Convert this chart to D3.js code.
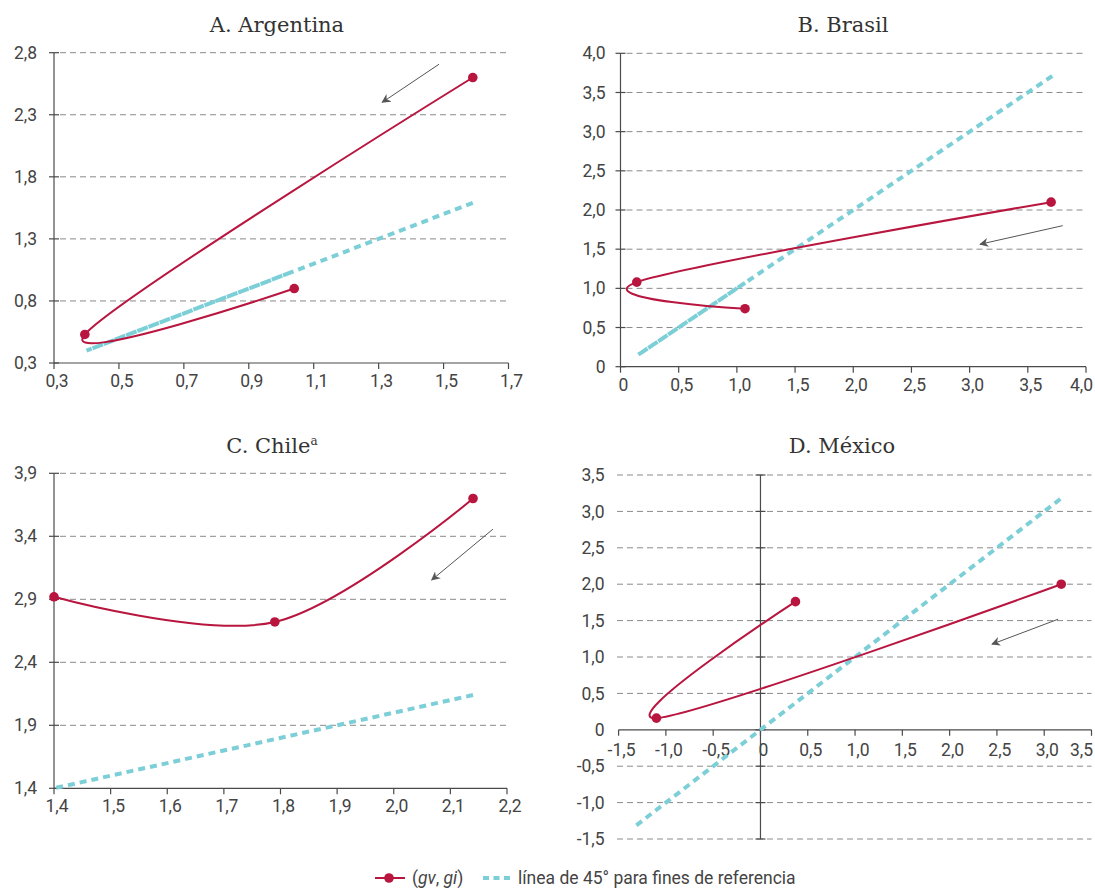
<!DOCTYPE html>
<html><head><meta charset="utf-8">
<script src="https://cdn.jsdelivr.net/npm/d3@7"></script>
<style>
body{margin:0;background:#fff;}
svg{display:block;}
</style></head>
<body>
<svg id="chart" width="1095" height="888"></svg>
<script>
// ---------- DATA ----------
const argentinaGv = [1.59, 0.395, 1.04];
const argentinaGi = [2.60, 0.53, 0.90];
const argentinaRef = [1.59, 0.40, 1.04];
const argentinaXTicks = [0.3, 0.5, 0.7, 0.9, 1.1, 1.3, 1.5, 1.7];
const argentinaYTicks = [0.3, 0.8, 1.3, 1.8, 2.3, 2.8];
const argentinaArrow = [[1.486, 2.707], [1.311, 2.40]];

const brasilGv = [3.70, 0.14, 1.07];
const brasilGi = [2.10, 1.08, 0.74];
const brasilRef = [3.71, 0.15, 1.07];
const brasilXTicks = [0, 0.5, 1.0, 1.5, 2.0, 2.5, 3.0, 3.5, 4.0];
const brasilYTicks = [0, 0.5, 1.0, 1.5, 2.0, 2.5, 3.0, 3.5, 4.0];
const brasilArrow = [[3.80, 1.80], [3.09, 1.563]];

const chileGv = [2.14, 1.79, 1.40];
const chileGi = [3.70, 2.72, 2.92];
const chileRef = [2.14, 1.40];
const chileXTicks = [1.4, 1.5, 1.6, 1.7, 1.8, 1.9, 2.0, 2.1, 2.2];
const chileYTicks = [1.4, 1.9, 2.4, 2.9, 3.4, 3.9];
const chileArrow = [[2.175, 3.456], [2.067, 3.053]];

const mexicoGv = [3.18, -1.10, 0.37];
const mexicoGi = [2.00, 0.16, 1.76];
const mexicoRef = [3.17, -1.33];
const mexicoXTicks = [-1.5, -1.0, -0.5, 0, 0.5, 1.0, 1.5, 2.0, 2.5, 3.0, 3.5];
const mexicoYTicks = [-1.5, -1.0, -0.5, 0, 0.5, 1.0, 1.5, 2.0, 2.5, 3.0, 3.5];
const mexicoArrow = [[3.147, 1.519], [2.448, 1.176]];

const panelTitles = ["A. Argentina", "B. Brasil", "C. Chile", "D. México"];
const legendLabels = ["(gv, gi)", "línea de 45° para fines de referencia"];

// ---------- STYLE ----------
const RED = "#B8153F";
const CYAN = "#7DCFD7";
const AXIS = "#4a4a4a";
const GRID = "#8a8a8a";
const TICKFONT = "'Roboto','Liberation Sans',sans-serif";
const TITLEFONT = "'DejaVu Serif',serif";
const WIDTH = 1095;

const svg = d3.select("#chart");
const defs = svg.append("defs");
defs.append("marker").attr("id","arrowhead").attr("viewBox","0 0 10 10")
  .attr("refX",9).attr("refY",5).attr("markerWidth",9).attr("markerHeight",9)
  .attr("markerUnits","userSpaceOnUse").attr("orient","auto")
  .append("path").attr("d","M0,0 L10,5 L0,10 L3,5 Z").attr("fill","#555");

function fmt(v){
  if (Math.abs(v) < 1e-9) return "0";
  return v.toFixed(1).replace(".", ",");
}

function panel(cfg){
  const x = d3.scaleLinear().domain([cfg.xTicks[0], cfg.xTicks[cfg.xTicks.length-1]]).range([cfg.left, cfg.right]);
  const y = d3.scaleLinear().domain([cfg.yTicks[0], cfg.yTicks[cfg.yTicks.length-1]]).range([cfg.bottom, cfg.top]);
  const cx = cfg.crossX !== undefined ? cfg.crossX : cfg.xTicks[0];
  const cy = cfg.crossY !== undefined ? cfg.crossY : cfg.yTicks[0];
  const g = svg.append("g");

  // title
  const t = g.append("text").attr("x", cfg.titleX).attr("y", cfg.titleY)
    .attr("text-anchor","middle").attr("font-family",TITLEFONT)
    .attr("font-size",21).attr("fill","#333").text(cfg.title);
  if (cfg.sup) t.append("tspan").attr("font-size",12).attr("dy",-8).text(cfg.sup);

  // gridlines
  g.selectAll("line.grid").data(cfg.yTicks.filter(v => v !== cy)).join("line")
    .attr("x1", cfg.gridLeft !== undefined ? cfg.gridLeft : x(cx) + 6)
    .attr("x2", cfg.right)
    .attr("y1", d => y(d)).attr("y2", d => y(d))
    .attr("stroke", GRID).attr("stroke-width",1).attr("stroke-dasharray","6,4");

  // y axis
  g.append("line").attr("x1", x(cx)).attr("x2", x(cx)).attr("y1", cfg.top).attr("y2", cfg.bottom)
    .attr("stroke", AXIS).attr("stroke-width",1.2);
  g.selectAll("line.yt").data(cfg.yTicks).join("line")
    .attr("x1", x(cx) - 5).attr("x2", x(cx) + 5)
    .attr("y1", d => y(d)).attr("y2", d => y(d))
    .attr("stroke", AXIS).attr("stroke-width",1.2);
  g.selectAll("text.yl").data(cfg.yTicks).join("text")
    .attr("x", cfg.left - cfg.yLabelGap).attr("y", d => y(d)).attr("dy","0.35em")
    .attr("text-anchor","end").attr("font-family",TICKFONT).attr("font-size",17.5)
    .attr("fill","#444").text(fmt);

  // x axis
  g.append("line").attr("x1", cfg.left).attr("x2", cfg.right).attr("y1", y(cy)).attr("y2", y(cy))
    .attr("stroke", AXIS).attr("stroke-width",1.2);
  g.selectAll("line.xt").data(cfg.xTicks).join("line")
    .attr("x1", d => x(d)).attr("x2", d => x(d))
    .attr("y1", y(cy)).attr("y2", y(cy) + 6)
    .attr("stroke", AXIS).attr("stroke-width",1.2);
  g.selectAll("text.xl").data(cfg.xTicks).join("text")
    .attr("y", y(cy) + cfg.xLabelDy)
    .attr("text-anchor","middle").attr("font-family",TICKFONT).attr("font-size",17.5)
    .attr("fill","#444").text(fmt)
    .each(function(d){
      const w = this.getComputedTextLength();
      let px = x(d) + 3;
      if (px + w / 2 > WIDTH - 2) px = WIDTH - 2 - w / 2;
      d3.select(this).attr("x", px);
    });

  // 45° reference line
  g.append("path").datum(cfg.ref)
    .attr("d", d3.line().x(d => x(d)).y(d => y(d)))
    .attr("fill","none").attr("stroke",CYAN).attr("stroke-width",4)
    .attr("stroke-dasharray","7,5");

  // series
  const pts = cfg.gv.map((v,i) => [v, cfg.gi[i]]);
  g.append("path").datum(pts)
    .attr("d", d3.line().x(d => x(d[0])).y(d => y(d[1])).curve(d3.curveCardinal.tension(0)))
    .attr("fill","none").attr("stroke",RED).attr("stroke-width",2);
  g.selectAll("circle.pt").data(pts).join("circle")
    .attr("cx", d => x(d[0])).attr("cy", d => y(d[1])).attr("r",4.8).attr("fill",RED);

  // arrow
  g.append("line")
    .attr("x1", x(cfg.arrow[0][0])).attr("y1", y(cfg.arrow[0][1]))
    .attr("x2", x(cfg.arrow[1][0])).attr("y2", y(cfg.arrow[1][1]))
    .attr("stroke","#555").attr("stroke-width",1).attr("marker-end","url(#arrowhead)");
}

panel({title: panelTitles[0], titleX: 277, titleY: 32, left: 54, right: 508.5, top: 52.7, bottom: 363,
  xTicks: argentinaXTicks, yTicks: argentinaYTicks, gv: argentinaGv, gi: argentinaGi, ref: argentinaRef,
  arrow: argentinaArrow, xLabelDy: 24, yLabelGap: 17});
panel({title: panelTitles[1], titleX: 843, titleY: 32, left: 620.5, right: 1086, top: 53.3, bottom: 366.7,
  xTicks: brasilXTicks, yTicks: brasilYTicks, gv: brasilGv, gi: brasilGi, ref: brasilRef,
  arrow: brasilArrow, xLabelDy: 24, yLabelGap: 15});
panel({title: panelTitles[2], sup: "a", titleX: 272, titleY: 453, left: 54, right: 507, top: 473.3, bottom: 788.3,
  xTicks: chileXTicks, yTicks: chileYTicks, gv: chileGv, gi: chileGi, ref: chileRef,
  arrow: chileArrow, xLabelDy: 24, yLabelGap: 17});
panel({title: panelTitles[3], titleX: 842, titleY: 453, left: 618.6, right: 1091.5, top: 475, bottom: 839,
  xTicks: mexicoXTicks, yTicks: mexicoYTicks, gv: mexicoGv, gi: mexicoGi, ref: mexicoRef,
  arrow: mexicoArrow, xLabelDy: 26, crossX: 0, crossY: 0, gridLeft: 617, yLabelGap: 14});

// ---------- LEGEND ----------
const lg = svg.append("g");
lg.append("line").attr("x1",375).attr("x2",405).attr("y1",878).attr("y2",878).attr("stroke",RED).attr("stroke-width",2);
lg.append("circle").attr("cx",389).attr("cy",878).attr("r",4.8).attr("fill",RED);
const lt = lg.append("text").attr("x",412).attr("y",883.5).attr("font-family",TICKFONT).attr("font-size",17.5).attr("fill","#444");
lt.append("tspan").text("(");
lt.append("tspan").attr("font-style","italic").text("gv");
lt.append("tspan").text(", ");
lt.append("tspan").attr("font-style","italic").text("gi");
lt.append("tspan").text(")");
lg.append("line").attr("x1",483).attr("x2",510).attr("y1",878).attr("y2",878).attr("stroke",CYAN).attr("stroke-width",4).attr("stroke-dasharray","6,4.5");
lg.append("text").attr("x",518).attr("y",883.5).attr("font-family",TICKFONT).attr("font-size",17.5).attr("fill","#444").text(legendLabels[1]);
</script>
</body></html>
